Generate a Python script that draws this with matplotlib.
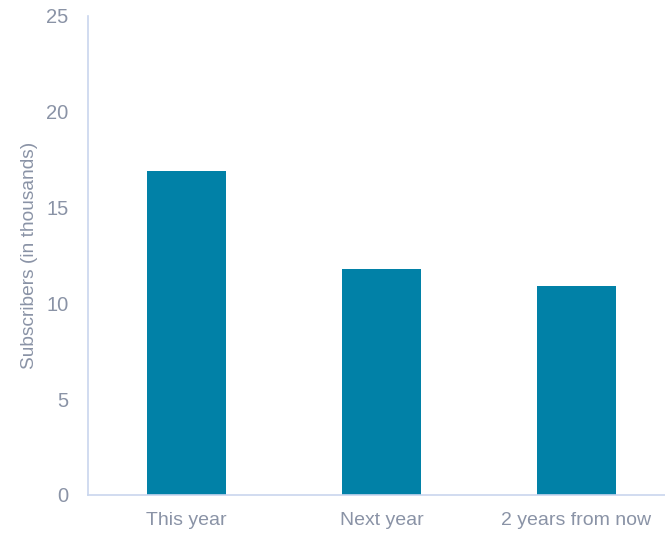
import matplotlib
matplotlib.use("Agg")
import matplotlib.pyplot as plt

categories = ["This year", "Next year", "2 years from now"]
subscribers = [16.9, 11.8, 10.9]
yticks = [0, 5, 10, 15, 20, 25]

bar_color = "#0181A7"
axis_color = "#C9D6EE"
text_color = "#8A93A6"

plt.rcParams["font.family"] = ["Liberation Sans", "DejaVu Sans"]

fig = plt.figure(figsize=(6.65, 5.33), dpi=100)
ax = fig.add_axes([0.1323, 0.0713, 0.8677, 0.8987])

x = range(len(categories))
ax.bar(x, subscribers, width=0.405, color=bar_color)

ax.set_xlim(-0.505, 2.454)
ax.set_ylim(0, 25)
ax.set_yticks(yticks)
ax.set_xticks(list(x))
ax.set_xticklabels(categories)

for side in ["top", "right"]:
    ax.spines[side].set_visible(False)
for side in ["left", "bottom"]:
    ax.spines[side].set_color(axis_color)
    ax.spines[side].set_linewidth(1.2)

ax.tick_params(axis="y", length=0, pad=14, labelsize=14.5, colors=text_color)
ax.tick_params(axis="x", length=0, pad=12, labelsize=14, colors=text_color)
ax.set_ylabel("Subscribers (in thousands)", fontsize=13.8, color=text_color, labelpad=6)

fig.savefig("out.png", dpi=100)
